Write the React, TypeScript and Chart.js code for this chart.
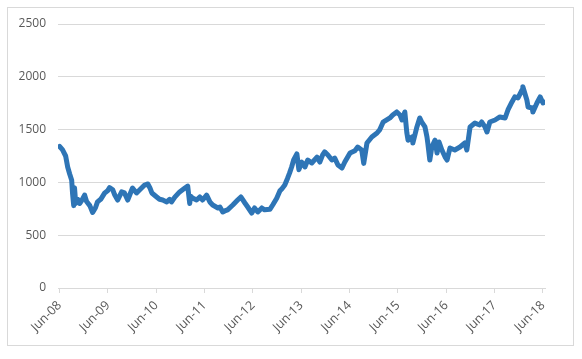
import React, { useEffect, useRef } from "react";
import { Chart, registerables } from "chart.js";

Chart.register(...registerables);

// x positions: months since Jun-2008
const months: number[] = [
  0, 0.7, 1.5, 2.0, 2.5, 3.0, 3.2, 3.5, 3.7, 4.0, 4.5, 5.0, 5.5, 6.2, 6.7, 7.5, 8.2, 8.9, 9.4, 10.2,
  11.2, 11.9, 12.4, 13.2, 13.7, 14.4, 15.4, 16.1, 16.9, 17.6, 18.1, 19.1, 19.9, 21.1, 21.9, 22.4, 22.9,
  24.1, 24.8, 25.6, 26.6, 27.3, 27.8, 28.6, 29.8, 31.1, 31.8, 32.3, 32.5, 33.0, 34.0, 34.8, 35.5, 36.5,
  37.3, 38.0, 39.3, 39.8, 40.5, 41.0, 41.7, 43.0, 44.2, 45.0, 46.0, 46.7, 47.7, 48.4, 49.2, 50.2, 50.9,
  52.2, 52.9, 53.9, 54.7, 55.2, 55.9, 56.6, 57.1, 57.6, 58.1, 58.9, 59.4, 60.1, 60.9, 61.6, 62.6, 63.9,
  64.6, 65.3, 65.8, 66.6, 67.6, 68.3, 69.1, 70.1, 70.8, 72.1, 73.3, 74.0, 75.0, 75.5, 76.3, 77.5, 78.8,
  79.5, 80.3, 81.2, 82.0, 82.7, 83.7, 84.5, 85.0, 85.7, 86.2, 86.5, 87.5, 87.7, 88.7, 89.4, 89.9, 90.7,
  91.2, 91.4, 91.9, 92.4, 93.2, 93.7, 94.2, 94.9, 95.7, 96.2, 96.9, 98.1, 99.4, 100.6, 101.1, 101.9,
  103.1, 104.3, 104.8, 105.6, 106.1, 106.8, 108.1, 109.3, 110.6, 111.3, 112.3, 113.0, 113.8, 114.8,
  115.0, 116.0, 116.3, 117.3, 117.5, 118.5, 119.3, 120.0, 120.5,
];

const values: number[] = [
  1340, 1310, 1250, 1146, 1080, 1020, 900, 780, 950, 800, 840, 800, 830, 880, 820, 780, 715, 760, 815, 840,
  900, 920, 950, 930, 880, 833, 910, 900, 833, 900, 947, 900, 930, 975, 985, 950, 900,
  862, 840, 833, 815, 840, 815, 860, 910, 947, 965, 800, 870, 852, 833, 862, 833, 880,
  815, 786, 758, 767, 720, 730, 740, 786, 833, 862, 805, 767, 710, 758, 720, 758, 740,
  745, 786, 850, 920, 940, 975, 1040, 1090, 1146, 1212, 1270, 1120, 1193, 1146, 1212, 1184, 1240,
  1193, 1260, 1290, 1260, 1212, 1230, 1165, 1136, 1193, 1278, 1300, 1335, 1307, 1180, 1373, 1430, 1468,
  1500, 1570, 1591, 1610, 1638, 1667, 1638, 1591, 1667, 1470, 1400, 1430, 1373, 1525, 1610, 1572, 1525,
  1430, 1373, 1212, 1335, 1400, 1278, 1383, 1307, 1240, 1212, 1326, 1307, 1335, 1373, 1307, 1525,
  1562, 1544, 1572, 1525, 1477, 1572, 1591, 1620, 1610, 1686, 1762, 1810, 1800, 1875,
  1905, 1780, 1714, 1705, 1667, 1752, 1810, 1752, 1760,
];

const tickMonths: number[] = [0, 12, 24, 36, 48, 60, 72, 84, 96, 108, 120];
const tickLabels: string[] = [
  "Jun-08", "Jun-09", "Jun-10", "Jun-11", "Jun-12", "Jun-13", "Jun-14", "Jun-15", "Jun-16", "Jun-17", "Jun-18",
];

const W = 582;
const H = 359;

export default function App() {
  const ref = useRef<HTMLCanvasElement | null>(null);

  useEffect(() => {
    if (!ref.current) return;
    const points = months.map((m, i) => ({ x: m, y: values[i] }));
    const yFont = { family: "'Open Sans', sans-serif", size: 12 };
    const xFont = { family: "'Open Sans', sans-serif", size: 12.5 };
    const chart = new Chart(ref.current, {
      type: "line",
      data: {
        datasets: [
          {
            data: points,
            borderColor: "#2E75B6",
            borderWidth: 5,
            pointRadius: 0,
            tension: 0,
            borderJoinStyle: "round",
            borderCapStyle: "round",
          },
        ],
      },
      options: {
        responsive: false,
        animation: false,
        parsing: false,
        layout: { padding: { left: 0, top: 24, right: 37, bottom: 0 } },
        plugins: { legend: { display: false }, tooltip: { enabled: false } },
        scales: {
          x: {
            type: "linear",
            min: -0.4,
            max: 120.5,
            afterFit: (s: any) => {
              s.height = H - 288;
            },
            afterBuildTicks: (s: any) => {
              s.ticks = tickMonths.map((v) => ({ value: v }));
            },
            ticks: {
              autoSkip: false,
              maxRotation: 45,
              minRotation: 45,
              padding: 5,
              color: "#595959",
              font: xFont,
              callback: (v: any) => {
                const i = tickMonths.indexOf(Number(v));
                return i >= 0 ? tickLabels[i] : "";
              },
            },
            grid: {
              drawOnChartArea: false,
              drawTicks: true,
              tickLength: 5,
              color: "#d9d9d9",
            },
            border: { display: true, color: "#d9d9d9" },
          },
          y: {
            min: 0,
            max: 2500,
            afterFit: (s: any) => {
              s.width = 58;
            },
            ticks: {
              stepSize: 500,
              padding: 12,
              color: "#595959",
              font: yFont,
              callback: (v: any) => String(v),
            },
            grid: { color: "#d9d9d9", drawTicks: false },
            border: { display: false },
          },
        },
      },
    } as any);
    return () => chart.destroy();
  }, []);

  return (
    <div style={{ position: "fixed", left: 0, top: 0, width: W, height: H, background: "#fff" }}>
      <div
        style={{
          position: "absolute",
          left: 7,
          top: 7,
          width: 567,
          height: 339,
          boxSizing: "border-box",
          border: "1px solid #d9d9d9",
        }}
      />
      <canvas
        ref={ref}
        width={W}
        height={H}
        style={{ position: "absolute", left: 0, top: 0, width: W, height: H }}
      />
    </div>
  );
}
